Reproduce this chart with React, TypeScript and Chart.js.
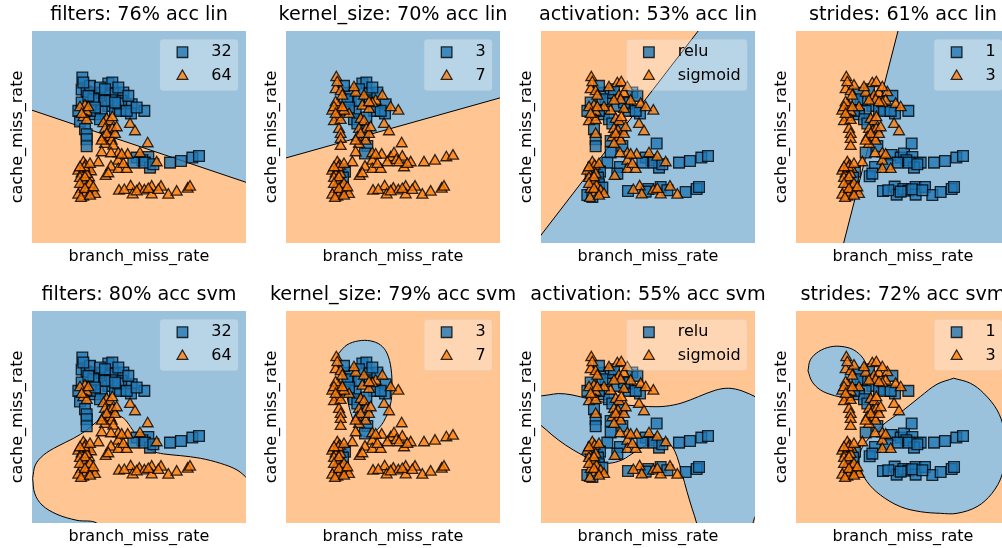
import React, { useEffect, useRef } from 'react';
import { Chart, registerables } from 'chart.js';

Chart.register(...registerables);
Chart.defaults.font.family = "'DejaVu Sans', sans-serif";
Chart.defaults.color = '#000';

// ---- scatter data (same points in every panel) ----
const branchMissRate = [
  42, 40, 55, 78, 85, 100, 50, 30, 55, 45, 35, 55, 50, 55, 55, 55, 40, 35,
  120, 132, 125, 140, 165, 120, 100, 140, 155, 160, 190, 188, 228, 130, 80, 95,
  115, 125, 132, 105, 110, 122, 132, 105, 125, 130, 110, 135, 100, 185, 200, 150, 75,
  150, 128, 178, 205, 215, 238, 240, 222, 195, 265, 245, 305, 338, 372, 392,
  150, 128, 150, 175, 112, 90, 165, 120,
  45, 52, 30, 40, 58, 68, 62, 35, 48, 58, 40, 30, 45, 55, 70, 80, 38, 55, 48,
  152, 187, 193, 213, 228, 250, 250, 278, 300, 325, 358, 365, 168,
  65, 95, 110, 150, 180, 110, 140, 175, 205, 65, 80, 115, 100, 140, 145, 60, 40,
  35, 65, 50, 65, 35, 50, 65, 75, 160, 230, 255, 205, 240, 270, 45, 60,
];
const cacheMissRate = [
  370, 334, 328, 324, 300, 324, 285, 270, 267, 250, 238, 242, 215, 200, 185, 164, 295, 280,
  352, 355, 315, 322, 325, 285, 270, 275, 270, 300, 290, 262, 270, 302, 260, 245,
  245, 238, 250, 232, 215, 210, 215, 190, 190, 180, 170, 165, 145, 230, 208, 292, 305,
  142, 142, 138, 130, 142, 172, 132, 122, 115, 115, 100, 115, 120, 130, 135,
  120, 102, 95, 95, 74, 115, 110, 82,
  115, 105, 90, 82, 95, 88, 70, 68, 55, 44, 35, 18, 12, 25, 30, 20, 8, 80, 100,
  30, 43, 19, 36, 31, 42, 19, 42, 18, 27, 36, 42, 32,
  345, 340, 335, 340, 315, 300, 295, 270, 280, 270, 280, 200, 180, 200, 220, 280, 260,
  100, 110, 70, 50, 50, 35, 15, 40, 138, 115, 110, 28, 35, 32, 355, 315,
];
// class index per point: 0 = first class (square), 1 = second class (triangle)
const filtersClass = [
  0, 0, 0, 0, 0, 0, 1, 0, 1, 1, 0, 1, 0, 0, 0, 0, 0, 1,
  0, 0, 0, 0, 0, 0, 0, 0, 0, 0, 0, 0, 0, 0, 0, 0,
  1, 1, 1, 1, 1, 1, 1, 1, 1, 1, 1, 1, 1, 1, 1, 0, 0,
  1, 1, 1, 0, 1, 1, 0, 0, 0, 1, 0, 0, 0, 0, 0,
  1, 1, 1, 1, 1, 1, 1, 1,
  1, 1, 1, 1, 1, 1, 1, 1, 1, 1, 1, 1, 1, 1, 1, 1, 1, 1, 1,
  1, 1, 1, 1, 1, 1, 1, 1, 1, 1, 1, 1, 1,
  0, 0, 0, 0, 0, 0, 0, 0, 0, 0, 0, 1, 1, 1, 1, 1, 1,
  1, 1, 1, 1, 1, 1, 1, 1, 1, 0, 0, 1, 1, 1, 0, 0,
];
const kernelSizeClass = [
  1, 1, 1, 0, 0, 1, 1, 1, 1, 1, 1, 1, 1, 1, 1, 1, 1, 1,
  0, 0, 1, 0, 0, 1, 0, 1, 0, 1, 0, 0, 1, 0, 1, 0,
  1, 1, 0, 0, 1, 0, 1, 1, 0, 1, 1, 0, 1, 1, 1, 1, 0,
  1, 0, 1, 1, 1, 1, 1, 1, 1, 1, 1, 1, 1, 1, 1,
  1, 1, 1, 1, 1, 1, 1, 1,
  1, 1, 1, 1, 0, 0, 0, 1, 1, 1, 1, 1, 1, 1, 1, 1, 1, 1, 1,
  1, 1, 1, 1, 1, 1, 1, 1, 1, 1, 1, 1, 1,
  0, 1, 0, 0, 1, 0, 1, 0, 1, 1, 0, 1, 1, 1, 1, 1, 1,
  1, 1, 1, 1, 1, 1, 1, 1, 1, 1, 1, 1, 1, 1, 1, 1,
];
const activationClass = [
  1, 1, 1, 0, 0, 0, 1, 0, 1, 1, 1, 1, 0, 1, 0, 0, 0, 1,
  1, 1, 1, 1, 0, 0, 1, 1, 0, 1, 1, 0, 1, 1, 0, 0,
  1, 1, 1, 0, 1, 1, 0, 1, 1, 1, 1, 0, 0, 1, 1, 0, 0,
  1, 1, 1, 0, 1, 0, 1, 0, 0, 1, 0, 0, 0, 0, 0,
  1, 0, 1, 1, 1, 0, 1, 0,
  1, 1, 1, 0, 0, 0, 0, 1, 1, 1, 1, 0, 0, 1, 1, 1, 1, 1, 0,
  0, 1, 1, 0, 1, 0, 1, 1, 1, 0, 0, 0, 1,
  0, 1, 0, 1, 0, 1, 0, 0, 1, 0, 1, 1, 0, 1, 1, 1, 1,
  1, 1, 1, 0, 1, 1, 1, 0, 1, 0, 0, 0, 1, 0, 1, 1,
];
const stridesClass = [
  1, 1, 1, 0, 0, 1, 1, 1, 1, 1, 1, 1, 1, 1, 1, 1, 1, 1,
  1, 1, 1, 1, 1, 0, 0, 0, 0, 1, 1, 0, 0, 1, 0, 0,
  1, 1, 1, 0, 1, 1, 1, 1, 1, 1, 1, 0, 0, 1, 1, 1, 0,
  1, 1, 0, 0, 0, 0, 0, 0, 0, 0, 0, 0, 0, 0, 0,
  1, 0, 1, 1, 0, 1, 0, 0,
  1, 1, 1, 1, 1, 0, 0, 1, 1, 1, 1, 1, 1, 1, 1, 1, 1, 1, 1,
  0, 0, 0, 0, 0, 0, 0, 0, 0, 0, 0, 0, 0,
  1, 1, 0, 1, 0, 1, 1, 0, 1, 0, 1, 1, 1, 1, 1, 1, 1,
  1, 1, 1, 1, 1, 1, 1, 1, 1, 0, 0, 0, 0, 0, 1, 1,
];

const filtersLabels = ['32', '64'];
const kernelSizeLabels = ['3', '7'];
const activationLabels = ['relu', 'sigmoid'];
const stridesLabels = ['1', '3'];

const panelTitles = [
  'filters: 76% acc lin', 'kernel_size: 70% acc lin', 'activation: 53% acc lin', 'strides: 61% acc lin',
  'filters: 80% acc svm', 'kernel_size: 79% acc svm', 'activation: 55% acc svm', 'strides: 72% acc svm',
];

// ---- decision regions (boundary vertices, data units) ----
const filtersLinLineX = [-130, 560];
const filtersLinLineY = [279.1, 46.9];
const filtersLinRegionX = [-130, 560, 560, -130];
const filtersLinRegionY = [279.1, 46.9, -150, -150];

const kernelLinLineX = [-130, 560];
const kernelLinLineY = [123.1, 316.6];
const kernelLinRegionX = [-130, 560, 560, -130];
const kernelLinRegionY = [123.1, 316.6, -150, -150];

const activationLinLineX = [-130, 380];
const activationLinLineY = [-129.6, 532.4];
const activationLinRegionX = [-130, 380, -130];
const activationLinRegionY = [-129.6, 532.4, 532.4];

const stridesLinLineX = [27.8, 204.8];
const stridesLinLineY = [-150, 540];
const stridesLinRegionX = [27.8, 204.8, -150, -150];
const stridesLinRegionY = [-150, 540, 540, -150];

const filtersSvmX = [-107, -99, -74, -34, 16, 56, 86, 116, 141, 166, 186, 206, 226, 251, 286, 336, 396, 456, 506, 540, 580, 580, 110, 86, 26, -34, -79, -101, -107];
const filtersSvmY = [8, 48, 78, 103, 128, 153, 178, 194, 198, 188, 163, 133, 108, 90, 81, 76, 68, 53, 33, 5, -30, -180, -180, -127, -118, -100, -72, -37, 8];

const kernelSvmX = [49, 74, 109, 144, 174, 194, 206, 209, 204, 184, 159, 139, 119, 104, 84, 69, 54, 49];
const kernelSvmY = [383, 408, 420, 420, 408, 383, 338, 278, 228, 178, 148, 133, 138, 158, 208, 278, 338, 383];

const activationSvmX = [-130, -86, -56, -16, 34, 94, 154, 214, 264, 314, 364, 414, 454, 494, 539, 580, 580, 540, 526, 520, 365, 358, 344, 329, 314, 299, 284, 264, 239, 209, 174, 134, 94, 54, 14, -36, -76, -111, -130, -130];
const activationSvmY = [252, 258, 262, 258, 246, 233, 227, 223, 224, 234, 253, 272, 278, 270, 250, 230, -100, -100, -130, -170, -170, -127, -82, -32, 23, 73, 103, 116, 118, 108, 88, 63, 53, 58, 78, 108, 138, 168, 175, 252];

const stridesSvmSmallX = [-73, -66, -41, -6, 29, 64, 92, 104, 99, 79, 54, 29, -1, -36, -61, -73];
const stridesSvmSmallY = [330, 363, 388, 402, 403, 393, 368, 338, 308, 283, 263, 253, 258, 273, 298, 330];
const stridesSvmLargeX = [364, 414, 454, 494, 514, 519, 509, 479, 434, 374, 324, 264, 204, 144, 104, 82, 82, 94, 124, 164, 214, 264, 314, 364];
const stridesSvmLargeY = [308, 293, 263, 213, 158, 88, 18, -37, -77, -97, -97, -92, -77, -42, -2, 43, 78, 108, 143, 178, 213, 253, 290, 308];

// ---- styling ----
const BLUE_BG = '#9ac2dd';
const ORANGE_BG = '#ffc592';
const SQUARE_FILL = 'rgba(31,119,180,0.8)';
const TRI_FILL = 'rgba(255,127,14,0.8)';
const EDGE = 'rgba(0,0,0,0.8)';

const X_MIN = -109, X_MAX = 533, Y_MIN = -126, Y_MAX = 509.5;

const zip = (xs: number[], ys: number[]) => xs.map((x, i) => ({ x, y: ys[i] }));

type Region = { xs: number[]; ys: number[]; color: string; border: boolean; tension: number };

function regionDataset(r: Region, order: number) {
  return {
    data: zip(r.xs, r.ys),
    showLine: true,
    fill: 'shape',
    backgroundColor: r.color,
    borderColor: r.border ? '#000' : 'rgba(0,0,0,0)',
    borderWidth: r.border ? 1 : 0,
    tension: r.tension,
    pointRadius: 0,
    pointHoverRadius: 0,
    clip: 0,
    order,
  };
}
function lineDataset(xs: number[], ys: number[], order: number) {
  return {
    data: zip(xs, ys),
    showLine: true,
    fill: false,
    borderColor: '#000',
    borderWidth: 1,
    tension: 0,
    pointRadius: 0,
    pointHoverRadius: 0,
    clip: 0,
    order,
  };
}

const bgPlugin = {
  id: 'areaBg',
  beforeDraw(chart: any, _args: any, opts: any) {
    const { ctx, chartArea: a } = chart;
    ctx.save();
    ctx.fillStyle = opts.color;
    ctx.fillRect(a.left, a.top, a.right - a.left, a.bottom - a.top);
    ctx.restore();
  },
};

const boxLegendPlugin = {
  id: 'boxLegend',
  afterDatasetsDraw(chart: any, _args: any, opts: any) {
    const { ctx, chartArea: a } = chart;
    const labels: string[] = opts.labels;
    ctx.save();
    ctx.font = "16px 'DejaVu Sans'";
    const tw = Math.max(...labels.map((l) => ctx.measureText(l).width));
    const w = 6.4 + 32 + 12.8 + tw + 6.4;
    const h = 51;
    const x0 = a.right - 8 - w;
    const y0 = a.top + 8.5;
    ctx.beginPath();
    ctx.roundRect(x0, y0, w, h, 3);
    ctx.fillStyle = 'rgba(255,255,255,0.3)';
    ctx.fill();
    ctx.strokeStyle = 'rgba(204,204,204,0.3)';
    ctx.lineWidth = 1;
    ctx.stroke();
    const mx = x0 + 22.4;
    const rows = [y0 + 12.7, y0 + 36.7];
    ctx.lineWidth = 1.3;
    ctx.strokeStyle = EDGE;
    ctx.fillStyle = SQUARE_FILL;
    ctx.beginPath();
    ctx.rect(mx - 5.3, rows[0] - 5.3, 10.6, 10.6);
    ctx.fill();
    ctx.stroke();
    const r = 6.2;
    ctx.fillStyle = TRI_FILL;
    ctx.beginPath();
    ctx.moveTo(mx, rows[1] - r);
    ctx.lineTo(mx + r * 0.866, rows[1] + r / 2);
    ctx.lineTo(mx - r * 0.866, rows[1] + r / 2);
    ctx.closePath();
    ctx.fill();
    ctx.stroke();
    ctx.fillStyle = '#000';
    ctx.textBaseline = 'middle';
    ctx.textAlign = 'left';
    labels.forEach((l, i) => ctx.fillText(l, x0 + 51.2, rows[i]));
    ctx.restore();
  },
};

type PanelSpec = {
  title: string;
  cls: number[];
  labels: string[];
  bg: string;
  regions: Region[];
  lines: { xs: number[]; ys: number[] }[];
  left: number;
  top: number;
};

const COL_LEFT = [5, 259, 514, 769];
const ROW_TOP = [0, 280];

const panels: PanelSpec[] = [
  { title: panelTitles[0], cls: filtersClass, labels: filtersLabels, bg: BLUE_BG,
    regions: [{ xs: filtersLinRegionX, ys: filtersLinRegionY, color: ORANGE_BG, border: false, tension: 0 }],
    lines: [{ xs: filtersLinLineX, ys: filtersLinLineY }], left: COL_LEFT[0], top: ROW_TOP[0] },
  { title: panelTitles[1], cls: kernelSizeClass, labels: kernelSizeLabels, bg: BLUE_BG,
    regions: [{ xs: kernelLinRegionX, ys: kernelLinRegionY, color: ORANGE_BG, border: false, tension: 0 }],
    lines: [{ xs: kernelLinLineX, ys: kernelLinLineY }], left: COL_LEFT[1], top: ROW_TOP[0] },
  { title: panelTitles[2], cls: activationClass, labels: activationLabels, bg: BLUE_BG,
    regions: [{ xs: activationLinRegionX, ys: activationLinRegionY, color: ORANGE_BG, border: false, tension: 0 }],
    lines: [{ xs: activationLinLineX, ys: activationLinLineY }], left: COL_LEFT[2], top: ROW_TOP[0] },
  { title: panelTitles[3], cls: stridesClass, labels: stridesLabels, bg: BLUE_BG,
    regions: [{ xs: stridesLinRegionX, ys: stridesLinRegionY, color: ORANGE_BG, border: false, tension: 0 }],
    lines: [{ xs: stridesLinLineX, ys: stridesLinLineY }], left: COL_LEFT[3], top: ROW_TOP[0] },
  { title: panelTitles[4], cls: filtersClass, labels: filtersLabels, bg: BLUE_BG,
    regions: [{ xs: filtersSvmX, ys: filtersSvmY, color: ORANGE_BG, border: true, tension: 0.35 }],
    lines: [], left: COL_LEFT[0], top: ROW_TOP[1] },
  { title: panelTitles[5], cls: kernelSizeClass, labels: kernelSizeLabels, bg: ORANGE_BG,
    regions: [{ xs: kernelSvmX, ys: kernelSvmY, color: BLUE_BG, border: true, tension: 0.35 }],
    lines: [], left: COL_LEFT[1], top: ROW_TOP[1] },
  { title: panelTitles[6], cls: activationClass, labels: activationLabels, bg: ORANGE_BG,
    regions: [{ xs: activationSvmX, ys: activationSvmY, color: BLUE_BG, border: true, tension: 0.35 }],
    lines: [], left: COL_LEFT[2], top: ROW_TOP[1] },
  { title: panelTitles[7], cls: stridesClass, labels: stridesLabels, bg: ORANGE_BG,
    regions: [
      { xs: stridesSvmSmallX, ys: stridesSvmSmallY, color: BLUE_BG, border: true, tension: 0.35 },
      { xs: stridesSvmLargeX, ys: stridesSvmLargeY, color: BLUE_BG, border: true, tension: 0.35 },
    ],
    lines: [], left: COL_LEFT[3], top: ROW_TOP[1] },
];

const CW = 268;
const CH = 272;

function Panel({ spec }: { spec: PanelSpec }) {
  const ref = useRef<HTMLCanvasElement>(null);
  useEffect(() => {
    const pts = branchMissRate.map((x, i) => ({ x, y: cacheMissRate[i], c: spec.cls[i] }));
    const squares = pts.filter((p) => p.c === 0).map((p) => ({ x: p.x, y: p.y }));
    const triangles = pts.filter((p) => p.c === 1).map((p) => ({ x: p.x, y: p.y }));
    const datasets: any[] = [
      { label: spec.labels[1], data: triangles, pointStyle: 'triangle', pointRadius: 6.3, pointHoverRadius: 6.3,
        backgroundColor: TRI_FILL, borderColor: EDGE, borderWidth: 1.3, order: 0 },
      { label: spec.labels[0], data: squares, pointStyle: 'rect', pointRadius: 7.6, pointHoverRadius: 7.6,
        backgroundColor: SQUARE_FILL, borderColor: EDGE, borderWidth: 1.3, order: 1 },
    ];
    spec.lines.forEach((l) => datasets.push(lineDataset(l.xs, l.ys, 2)));
    spec.regions.forEach((r) => datasets.push(regionDataset(r, 3)));
    const axisCommon = {
      type: 'linear',
      display: true,
      ticks: { display: false },
      grid: { display: false, drawTicks: false },
      border: { display: false },
    };
    const chart = new Chart(ref.current as HTMLCanvasElement, {
      type: 'scatter',
      data: { datasets },
      plugins: [bgPlugin, boxLegendPlugin],
      options: {
        responsive: false,
        animation: false,
        events: [],
        layout: { padding: { top: 0, bottom: 1.8, left: 0, right: 0 }, autoPadding: false },
        plugins: {
          legend: { display: false },
          tooltip: { enabled: false },
          title: {
            display: true,
            text: spec.title,
            color: '#000',
            font: { size: 19.2, weight: 'normal' },
            padding: { top: 3.6, bottom: 4.36 },
            fullSize: true,
          },
          areaBg: { color: spec.bg },
          boxLegend: { labels: spec.labels },
        } as any,
        scales: {
          x: {
            ...axisCommon,
            min: X_MIN,
            max: X_MAX,
            title: { display: true, text: 'branch_miss_rate', color: '#000', font: { size: 16 }, padding: { top: 4, bottom: 4 } },
          },
          y: {
            ...axisCommon,
            position: 'left',
            min: Y_MIN,
            max: Y_MAX,
            title: { display: true, text: 'cache_miss_rate', color: '#000', font: { size: 16 }, padding: { top: 3, bottom: 4.8 } },
          },
          yR: {
            ...axisCommon,
            position: 'right',
            afterFit: (s: any) => { s.width = 27; },
          },
        } as any,
      } as any,
    } as any);
    return () => chart.destroy();
  }, [spec]);
  return (
    <canvas
      ref={ref}
      width={CW}
      height={CH}
      style={{ position: 'absolute', left: spec.left, top: spec.top, width: CW, height: CH }}
    />
  );
}

export default function App() {
  return (
    <div style={{ position: 'absolute', left: 0, top: 0, width: 1002, height: 548, overflow: 'hidden', background: '#fff' }}>
      {panels.map((p, i) => (
        <Panel key={i} spec={p} />
      ))}
    </div>
  );
}
